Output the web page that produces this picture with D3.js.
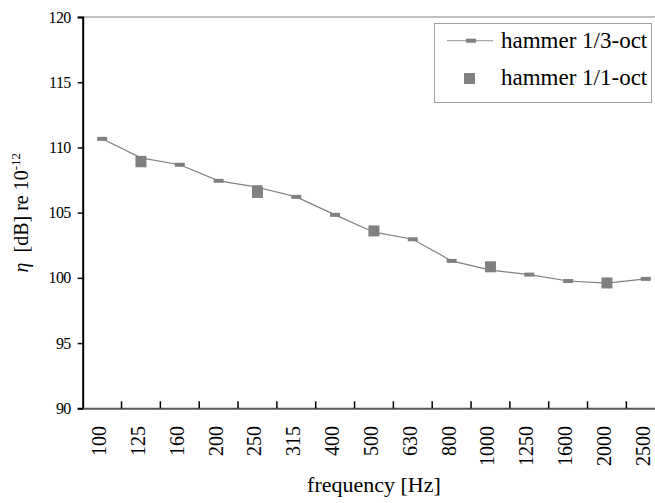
<!DOCTYPE html>
<html><head><meta charset="utf-8">
<script src="https://cdn.jsdelivr.net/npm/d3@7"></script>
<style>body{margin:0;background:#fff;overflow:hidden}svg{display:block}svg text{font-family:'Liberation Serif',serif !important;fill:#000}</style>
</head><body><svg id="c" width="655" height="503" font-family="Liberation Serif, serif"></svg>
<script>
const categories = ["100","125","160","200","250","315","400","500","630","800","1000","1250","1600","2000","2500"];
const thirdOctValues = [110.66,109.2,108.67,107.44,106.95,106.21,104.83,103.5,102.96,101.3,100.6,100.25,99.76,99.6,99.92];
const octaveCategories = ["125","250","500","1000","2000"];
const octaveValues = [108.9,106.55,103.6,100.85,99.61];
const yTicks = [90,95,100,105,110,115,120];
const seriesNames = ["hammer 1/3-oct","hammer 1/1-oct"];

const FONT = "Liberation Serif, serif";
const svg = d3.select("#c");
const L = 82.7, R = 665.2, T = 17, B = 408.3;
const x = d3.scaleBand().domain(categories).range([L, R]).paddingInner(0).paddingOuter(0);
const y = d3.scaleLinear().domain([90,120]).range([B, T]);
const col = "#808080";

// top border (and right, off canvas)
svg.append("line").attr("x1",L).attr("x2",R).attr("y1",T).attr("y2",T).attr("stroke","#c0c0c0").attr("stroke-width",2);

// y axis
const ya = svg.append("g").attr("transform",`translate(${L},0)`)
  .call(d3.axisLeft(y).tickValues(yTicks).tickSize(5).tickFormat(d3.format("d")));
ya.attr("font-family",FONT);
ya.select(".domain").attr("stroke","#000").attr("stroke-width",2);
ya.selectAll(".tick line").attr("stroke","#000").attr("stroke-width",1.5);
ya.selectAll(".tick text").attr("x",-12).attr("font-size",16).attr("letter-spacing","-0.6px");

// x axis
const xa = svg.append("g").attr("transform",`translate(0,${B})`)
  .call(d3.axisBottom(x).tickSize(0).tickFormat(""));
xa.select(".domain").attr("stroke","#595959").attr("stroke-width",2);
xa.selectAll(".tick").remove();
const bounds = categories.slice(1).map(c => x(c));
svg.append("g").selectAll("line").data(bounds).join("line")
  .attr("x1",d=>d).attr("x2",d=>d).attr("y1",B-7).attr("y2",B).attr("stroke","#000").attr("stroke-width",1.5);
svg.append("g").attr("font-family",FONT).selectAll("text").data(categories).join("text")
  .attr("transform",d=>`translate(${x(d)+x.bandwidth()/2+4},426) rotate(-90)`)
  .attr("text-anchor","end").attr("font-size",20).text(d=>d);

// axis titles
svg.append("text").attr("font-family",FONT).attr("x",(L+R)/2).attr("y",492).attr("text-anchor","middle").attr("font-size",22).text("frequency [Hz]");
const yt = svg.append("text").attr("font-family",FONT).attr("transform",`translate(28,${(T+B)/2}) rotate(-90)`).attr("text-anchor","middle").attr("font-size",20);
yt.append("tspan").attr("font-style","italic").text("η");
yt.append("tspan").text("\u00a0 [dB] re 10");
yt.append("tspan").attr("font-size",13).attr("dy",-8).text("-12");

// series line
const cx = c => x(c) + x.bandwidth()/2;
const line = d3.line().x((d,i)=>cx(categories[i])).y(d=>y(d));
svg.append("path").datum(thirdOctValues).attr("d",line).attr("fill","none").attr("stroke",col).attr("stroke-width",1.2);
svg.append("g").selectAll("rect").data(thirdOctValues).join("rect")
  .attr("x",(d,i)=>cx(categories[i])-5).attr("y",d=>y(d)-2).attr("width",10).attr("height",4).attr("fill",col);
svg.append("g").selectAll("rect").data(octaveValues).join("rect")
  .attr("x",(d,i)=>cx(octaveCategories[i])-5.5).attr("y",d=>y(d)-5.5).attr("width",11).attr("height",11).attr("fill",col);

// legend
const lg = svg.append("g").attr("font-family",FONT);
lg.append("rect").attr("x",434.5).attr("y",23.5).attr("width",217).attr("height",79).attr("fill","#fff").attr("stroke","#a0a0a0").attr("stroke-width",1);
lg.append("line").attr("x1",447).attr("x2",493).attr("y1",40.7).attr("y2",40.7).attr("stroke","#a6a6a6").attr("stroke-width",1.2);
lg.append("rect").attr("x",466).attr("y",38.7).attr("width",10).attr("height",4).attr("fill",col);
lg.append("rect").attr("x",464).attr("y",73).attr("width",11).attr("height",11).attr("fill",col);
lg.append("text").attr("x",501).attr("y",47.5).attr("font-size",23).text(seriesNames[0]);
lg.append("text").attr("x",501).attr("y",85).attr("font-size",23).text(seriesNames[1]);
</script></body></html>
